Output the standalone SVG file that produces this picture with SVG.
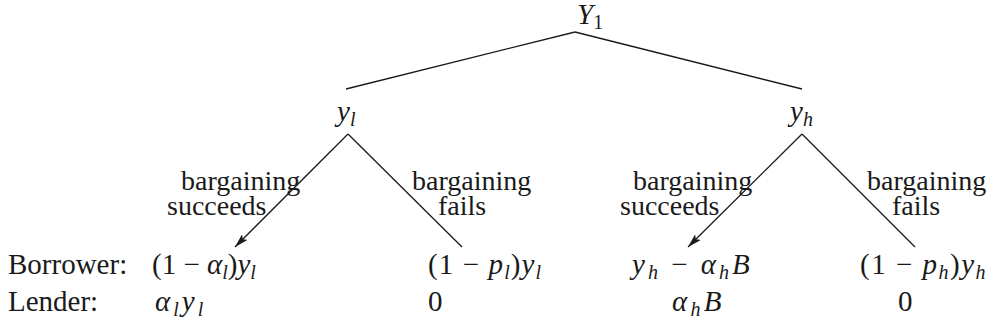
<svg xmlns="http://www.w3.org/2000/svg" width="989" height="330" viewBox="0 0 989 330">
<style>
text{font-family:"Liberation Serif","Times New Roman",serif;font-size:29px;fill:#1a1a1a}
.lb{font-size:28px}
.i{font-style:italic}
.s{font-size:20px}
.ln{stroke:#1a1a1a;stroke-width:1.3;fill:none}
</style>
<defs>
<marker id="ah" viewBox="0 0 14 8" refX="14" refY="4" markerWidth="14" markerHeight="8" markerUnits="userSpaceOnUse" orient="auto">
<path d="M0,0 L14,4 L0,8 L3,4 z" fill="#1a1a1a"/>
</marker>
</defs>
<g id="connectors">
<line class="ln" x1="575" y1="32" x2="346" y2="89"/>
<line class="ln" x1="575" y1="32" x2="802" y2="89"/>
<line class="ln" x1="348" y1="134" x2="235" y2="247" marker-end="url(#ah)"/>
<line class="ln" x1="348" y1="134" x2="462" y2="247"/>
<line class="ln" x1="802" y1="134" x2="688" y2="247" marker-end="url(#ah)"/>
<line class="ln" x1="802" y1="134" x2="915" y2="247"/>
</g>
<g id="root"><text x="577" y="24"><tspan class="i">Y</tspan><tspan class="s" dy="5">1</tspan></text></g>
<g id="yl"><text x="337" y="121"><tspan class="i">y</tspan><tspan class="i s" dy="5">l</tspan></text></g>
<g id="yh"><text x="790" y="121"><tspan class="i">y</tspan><tspan class="i s" dy="5">h</tspan></text></g>
<g id="labels">
<text class="lb" x="181" y="190">bargaining</text>
<text class="lb" x="167" y="215">succeeds</text>
<text class="lb" x="412" y="190">bargaining</text>
<text class="lb" x="438" y="215">fails</text>
<text class="lb" x="633" y="190">bargaining</text>
<text class="lb" x="620" y="215">succeeds</text>
<text class="lb" x="867" y="190">bargaining</text>
<text class="lb" x="892" y="215">fails</text>
</g>
<g id="row-labels">
<text x="8" y="274">Borrower:</text>
<text x="8" y="311">Lender:</text>
</g>
<g id="leaf1">
<text x="152" y="274">(1 − <tspan class="i">α</tspan><tspan class="i s" dy="5">l</tspan><tspan dy="-5">)</tspan><tspan class="i">y</tspan><tspan class="i s" dy="5">l</tspan></text>
<text x="155" y="311" letter-spacing="3"><tspan class="i">α</tspan><tspan class="i s" dy="5">l</tspan><tspan class="i" dy="-5">y</tspan><tspan class="i s" dy="5">l</tspan></text>
</g>
<g id="leaf2">
<text x="428" y="274" letter-spacing="1.1">(1 − <tspan class="i">p</tspan><tspan class="i s" dy="5">l</tspan><tspan dy="-5">)</tspan><tspan class="i">y</tspan><tspan class="i s" dy="5">l</tspan></text>
<text x="428" y="311">0</text>
</g>
<g id="leaf3">
<text x="632" y="274" letter-spacing="3"><tspan class="i">y</tspan><tspan class="i s" dy="5">h</tspan><tspan dy="-5"> − </tspan><tspan class="i">α</tspan><tspan class="i s" dy="5">h</tspan><tspan class="i" dy="-5">B</tspan></text>
<text x="672" y="311" letter-spacing="3.3"><tspan class="i">α</tspan><tspan class="i s" dy="5">h</tspan><tspan class="i" dy="-5">B</tspan></text>
</g>
<g id="leaf4">
<text x="860" y="274" letter-spacing="1.5">(1 − <tspan class="i">p</tspan><tspan class="i s" dy="5">h</tspan><tspan dy="-5">)</tspan><tspan class="i">y</tspan><tspan class="i s" dy="5">h</tspan></text>
<text x="898" y="311">0</text>
</g>
</svg>
